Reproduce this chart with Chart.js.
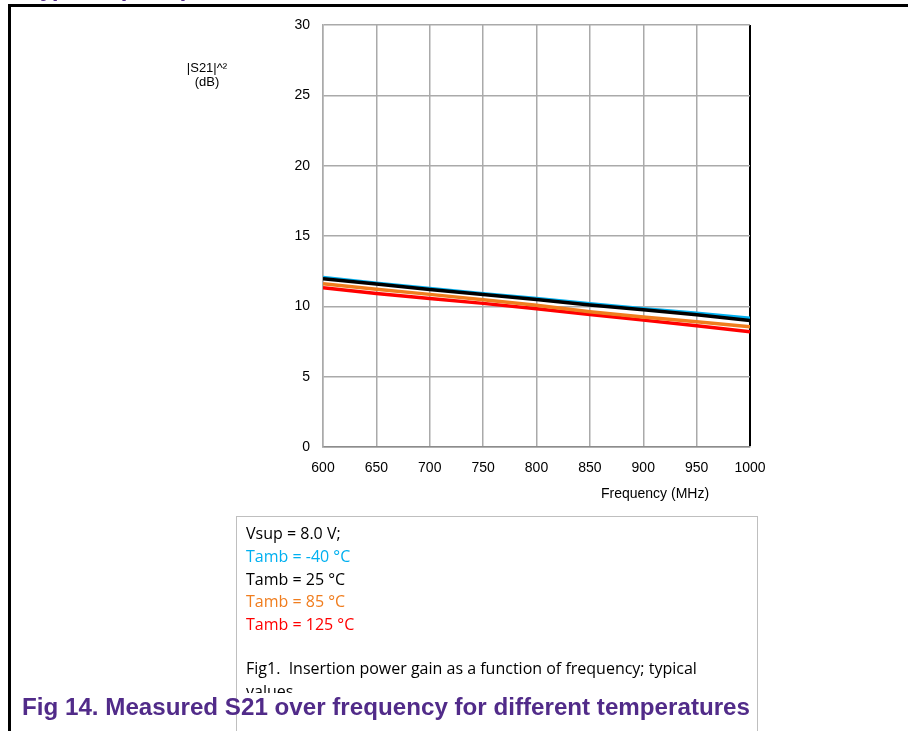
<!DOCTYPE html>
<html>
<head>
<meta charset="utf-8">
<style>
  html, body { margin: 0; padding: 0; background: #fff; }
  #wrap { width: 908px; height: 731px; }
</style>
<script src="https://cdn.jsdelivr.net/npm/chart.js@4.4.0/dist/chart.umd.min.js"></script>
</head>
<body>
<div id="wrap"><canvas id="myChart" width="908" height="731"></canvas></div>
<script>
// Valores
const freqs = [600, 650, 700, 750, 800, 850, 900, 950, 1000];
const seriesNames = ['Tamb = -40 °C', 'Tamb = 25 °C', 'Tamb = 85 °C', 'Tamb = 125 °C'];
const seriesColors = ['#00b0f0', '#000000', '#f07d1e', '#ff0000'];
const gainM40 = [12.05, 11.65, 11.27, 10.90, 10.55, 10.18, 9.83, 9.50, 9.15];
const gain25  = [11.97, 11.58, 11.20, 10.84, 10.49, 10.10, 9.75, 9.40, 9.00];
const gain85  = [11.60, 11.22, 10.85, 10.47, 10.07, 9.62, 9.25, 8.90, 8.55];
const gain125 = [11.32, 10.92, 10.56, 10.21, 9.82, 9.42, 9.02, 8.62, 8.20];
const xTicks = [600, 650, 700, 750, 800, 850, 900, 950, 1000];
const yTicks = [0, 5, 10, 15, 20, 25, 30];

const allSeries = [gainM40, gain25, gain85, gain125];
const drawOrder = [1, 0, 2, 3]; // preto por cima do azul

const datasets = allSeries.map((vals, i) => ({
    label: seriesNames[i],
    data: freqs.map((f, j) => ({ x: f, y: vals[j] })),
    borderColor: seriesColors[i],
    borderWidth: 3.5,
    pointRadius: 0,
    tension: 0,
    order: drawOrder[i]
}));

// Textos e moldura da página
const pagePlugin = {
    id: 'pagePlugin',
    beforeDraw(chart) {
        const c = chart.ctx;
        c.save();
        c.fillStyle = '#fff';
        c.fillRect(0, 0, chart.width, chart.height);
        c.restore();
    },
    afterDraw(chart) {
        const c = chart.ctx;
        const area = chart.chartArea;
        c.save();

        // título cortado no topo
        c.fillStyle = '#512b89';
        c.font = 'bold 24px "Liberation Sans", Arial, sans-serif';
        c.textBaseline = 'alphabetic';
        c.fillText('y)', 40, -4);
        c.fillText('(', 118, -4);
        c.fillText(')', 181, -4);

        // moldura preta
        c.strokeStyle = '#000';
        c.lineWidth = 3;
        c.beginPath();
        c.moveTo(9.5, chart.height);
        c.lineTo(9.5, 5.5);
        c.lineTo(chart.width, 5.5);
        c.stroke();

        // título do eixo y
        c.fillStyle = '#000';
        c.font = '13px "Liberation Sans", Arial, sans-serif';
        c.textAlign = 'center';
        c.fillText('|S21|^²', 207, 72);
        c.fillText('(dB)', 207, 86);

        // título do eixo x
        c.font = '14px "Liberation Sans", Arial, sans-serif';
        c.fillText('Frequency (MHz)', 655, area.bottom + 51);

        // caixa de legenda
        c.strokeStyle = '#bfbfbf';
        c.lineWidth = 1;
        c.strokeRect(236.5, 516.5, 521, 230);

        c.save();
        c.beginPath();
        c.rect(237, 517, 520, 176);
        c.clip();
        c.textAlign = 'left';
        c.font = '16px "Liberation Sans Narrow", "Open Sans", sans-serif';
        const lx = 246;
        c.fillStyle = '#000';
        c.fillText('Vsup = 8.0 V;', lx, 539);
        seriesNames.forEach((name, i) => {
            c.fillStyle = seriesColors[i];
            c.fillText(name, lx, 562 + i * 22.5);
        });
        c.fillStyle = '#000';
        c.fillText('Fig1.  Insertion power gain as a function of frequency; typical', lx, 674);
        c.fillText('values', lx, 697);
        c.restore();

        // legenda da figura
        c.fillStyle = '#512b89';
        c.font = 'bold 24px "Liberation Sans", Arial, sans-serif';
        c.textAlign = 'left';
        const cap = 'Fig 14. Measured S21 over frequency for different temperatures';
        const w = c.measureText(cap).width;
        c.save();
        c.translate(22, 715);
        c.scale(728 / w, 1);
        c.fillText(cap, 0, 0);
        c.restore();

        c.restore();
    }
};

const ctx = document.getElementById('myChart').getContext('2d');
const chart = new Chart(ctx, {
    type: 'line',
    data: { datasets: datasets },
    options: {
        responsive: false,
        animation: false,
        layout: {
            padding: { left: 263, right: 158, top: 25, bottom: 254 }
        },
        scales: {
            x: {
                type: 'linear',
                min: xTicks[0],
                max: xTicks[xTicks.length - 1],
                afterBuildTicks: (axis) => { axis.ticks = xTicks.map(v => ({ value: v })); },
                afterFit: (axis) => { axis.height = 30; },
                grid: {
                    color: (ctx) => ctx.tick && ctx.tick.value === 1000 ? '#000' : '#aaaaaa',
                    lineWidth: (ctx) => ctx.tick && ctx.tick.value === 1000 ? 2 : 1.5,
                    drawTicks: false
                },
                border: { color: '#8c8c8c', width: 1.5 },
                ticks: {
                    color: '#000',
                    padding: 13,
                    maxRotation: 0,
                    callback: (value) => String(value),
                    font: { family: '"Liberation Sans", Arial, sans-serif', size: 14 }
                }
            },
            y: {
                min: yTicks[0],
                max: yTicks[yTicks.length - 1],
                afterBuildTicks: (axis) => { axis.ticks = yTicks.map(v => ({ value: v })); },
                afterFit: (axis) => { axis.width = 60; },
                grid: {
                    color: '#aaaaaa',
                    lineWidth: 1.5,
                    drawTicks: false
                },
                border: { color: '#aaaaaa', width: 1.5 },
                ticks: {
                    color: '#000',
                    padding: 13,
                    font: { family: '"Liberation Sans", Arial, sans-serif', size: 14 }
                }
            }
        },
        plugins: {
            legend: { display: false },
            tooltip: { enabled: false }
        }
    },
    plugins: [pagePlugin]
});
</script>
</body>
</html>
